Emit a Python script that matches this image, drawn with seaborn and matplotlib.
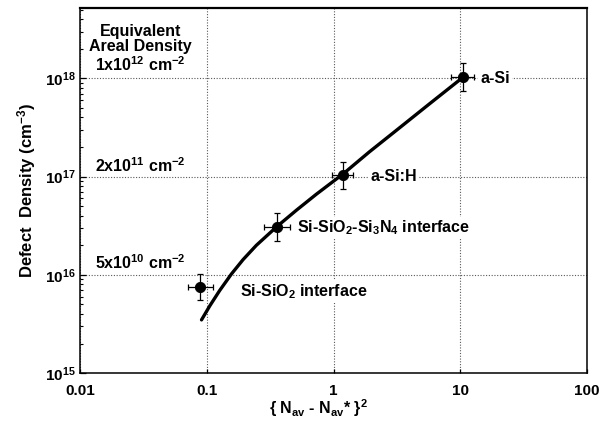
import numpy as np
import pandas as pd
import matplotlib
matplotlib.use("Agg")
import matplotlib.pyplot as plt
import seaborn as sns
from matplotlib.ticker import LogLocator, LogFormatterMathtext, NullFormatter, FixedLocator

# ---- data ----
point_names = ["Si-SiO$_2$ interface", "Si-SiO$_2$-Si$_3$N$_4$ interface", "a-Si:H", "a-Si"]
point_x = [0.089, 0.357, 1.18, 10.4]
point_y = [7.5e15, 3.07e16, 1.03e17, 1.03e18]
xerr_dec = [0.096, 0.10, 0.085, 0.09]     # half-width of error bar, decades
yerr_dec = [0.13, 0.14, 0.136, 0.14]
label_x = [0.182, 0.51, 1.95, 14.4]
label_y = [6.8e15, 3.0e16, 1.0e17, 1.0e18]

curve_x = [0.0908, 0.1057, 0.1265, 0.1563, 0.1932, 0.246, 0.358, 0.508, 0.731,
           1.05, 1.183, 1.919, 3.119, 5.70, 10.42]
curve_y = [3.48e15, 4.85e15, 6.95e15, 1.02e16, 1.43e16, 2.00e16, 3.11e16, 4.54e16,
           6.62e16, 9.44e16, 1.06e17, 1.79e17, 2.95e17, 5.50e17, 1.02e18]

areal_labels = ["1x10$^{12}$ cm$^{-2}$", "2x10$^{11}$ cm$^{-2}$", "5x10$^{10}$ cm$^{-2}$"]
areal_y = [1.38e18, 1.29e17, 1.32e16]

xticks = [0.01, 0.1, 1, 10, 100]
xticklabels = ["0.01", "0.1", "1", "10", "100"]

# ---- styling ----
sns.set_theme(style="ticks")
plt.rcParams["font.family"] = ["Liberation Sans", "DejaVu Sans"]
plt.rcParams["font.weight"] = "bold"
plt.rcParams["mathtext.fontset"] = "custom"
plt.rcParams["mathtext.rm"] = "Liberation Sans:bold"
plt.rcParams["mathtext.it"] = "Liberation Sans:bold"
plt.rcParams["mathtext.bf"] = "Liberation Sans:bold"
plt.rcParams["mathtext.default"] = "rm"
for key in ["text.color", "axes.labelcolor", "xtick.color", "ytick.color",
            "xtick.labelcolor", "ytick.labelcolor", "axes.edgecolor"]:
    plt.rcParams[key] = "black"

fig = plt.figure(figsize=(6.11, 4.23), dpi=100)
ax = fig.add_axes([0.131, 0.118, 0.830, 0.863])
ax.set_xscale("log")
ax.set_yscale("log")
ax.set_xlim(0.01, 100)
ax.set_ylim(1e15, 5.2e18)

# grid
ax.grid(True, which="major", linestyle=(0, (1, 1.5)), color="0.35", linewidth=0.8)
ax.set_axisbelow(True)

# curve
df_curve = pd.DataFrame({"x": curve_x, "y": curve_y})
sns.lineplot(data=df_curve, x="x", y="y", ax=ax, color="black", linewidth=2.4,
             sort=False, estimator=None, zorder=3)
for ln in ax.lines:
    ln.set_solid_joinstyle("round")
    ln.set_solid_capstyle("round")

# points with error bars
px = np.array(point_x)
py = np.array(point_y)
xe = np.array(xerr_dec)
ye = np.array(yerr_dec)
xerr = np.vstack([px - px / 10**xe, px * 10**xe - px])
yerr = np.vstack([py - py / 10**ye, py * 10**ye - py])
ax.errorbar(px, py, xerr=xerr, yerr=yerr, fmt="none", ecolor="black",
            elinewidth=0.9, capsize=2.5, capthick=0.9, zorder=4)
df_pts = pd.DataFrame({"x": point_x, "y": point_y})
sns.scatterplot(data=df_pts, x="x", y="y", ax=ax, color="black", s=55,
                edgecolor="black", zorder=5, legend=False)

# point labels
for name, lx, ly in zip(point_names, label_x, label_y):
    ax.text(lx, ly, name, fontsize=11.5, fontweight="bold", ha="left", va="center",
            color="black", zorder=6,
            bbox=dict(facecolor="white", edgecolor="none", pad=1.5))

# equivalent areal density
ax.text(0.030, 10**18.40, "Equivalent\nAreal Density", fontsize=11.5, fontweight="bold",
        ha="center", va="center", linespacing=0.95, color="black")
for lab, yy in zip(areal_labels, areal_y):
    ax.text(0.030, yy, lab, fontsize=11.5, fontweight="bold", ha="center", va="center",
            color="black")

# axes ticks
ax.xaxis.set_major_locator(FixedLocator(xticks))
ax.set_xticklabels(xticklabels, fontsize=11, fontweight="bold")
ax.xaxis.set_minor_locator(FixedLocator([]))
ax.yaxis.set_major_locator(LogLocator(base=10, numticks=10))
ax.yaxis.set_major_formatter(LogFormatterMathtext())
ax.yaxis.set_minor_locator(LogLocator(base=10, subs=np.arange(2, 10), numticks=20))
ax.yaxis.set_minor_formatter(NullFormatter())
ax.tick_params(axis="y", which="major", direction="in", length=4, width=0.9,
               labelsize=11, pad=3, colors="black")
ax.tick_params(axis="y", which="minor", direction="in", length=2.5, width=0.8,
               colors="black")
ax.tick_params(axis="x", which="major", direction="in", length=3, width=0.9,
               labelsize=11, pad=8, colors="black")
for lab in ax.get_yticklabels():
    lab.set_fontweight("bold")

for sp in ax.spines.values():
    sp.set_color("black")
    sp.set_linewidth(1.1)
ax.spines["top"].set_linewidth(1.6)

ax.set_xlabel("{ N$_{av}$ - N$_{av}$* }$^2$", fontsize=11.5, fontweight="bold",
              color="black")
ax.xaxis.set_label_coords(0.47, -0.097)
ax.xaxis.label.set_va("center")
ax.set_ylabel("Defect  Density (cm$^{-3}$)", fontsize=12, fontweight="bold",
              labelpad=5, color="black")

fig.savefig("out.png", dpi=100)
